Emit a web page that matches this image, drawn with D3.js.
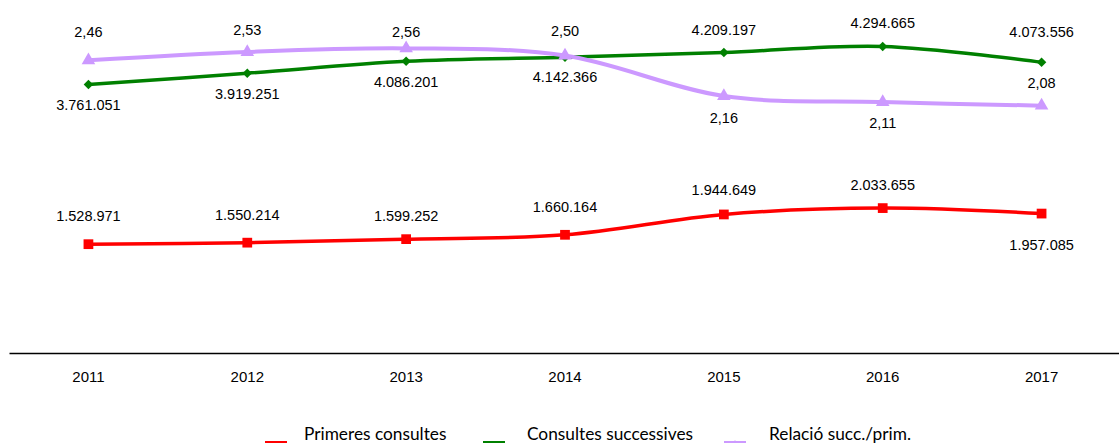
<!DOCTYPE html>
<html>
<head>
<meta charset="utf-8">
<script src="https://cdnjs.cloudflare.com/ajax/libs/d3/7.8.5/d3.min.js"></script>
<style>
  body { margin: 0; background: #fff; }
  svg text { font-family: "Liberation Sans", Arial, sans-serif; }
</style>
</head>
<body>
<div id="chart"></div>
<script>
var years = ["2011", "2012", "2013", "2014", "2015", "2016", "2017"];
var primeres = [1528971, 1550214, 1599252, 1660164, 1944649, 2033655, 1957085];
var successives = [3761051, 3919251, 4086201, 4142366, 4209197, 4294665, 4073556];
var relacio = [2.46, 2.53, 2.56, 2.50, 2.16, 2.11, 2.08];
var seriesNames = ["Primeres consultes", "Consultes successives", "Relació succ./prim."];

// label offsets (px, from point) - above is negative
var primOffset = [-28, -28, -23, -28, -25, -23, 31];
var succOffset = [20, 21, 21, 20, -23, -24, -30];
var relOffset = [-28, -22, -17, -25, 22, 21, -23];

var width = 1119, height = 443;

var svg = d3.select("#chart").append("svg")
    .attr("width", width)
    .attr("height", height);

var x = d3.scaleBand().domain(years).range([9, 1121]);
var y = d3.scaleLinear().domain([0, 5000000]).range([353.5, -4]);
var y2 = d3.scaleLinear().domain([0, 3]).range([353.5, -4]);

function cx(d, i) { return x(years[i]) + x.bandwidth() / 2; }

// axis
var xAxis = svg.append("g").attr("transform", "translate(0,353)")
    .call(d3.axisBottom(x).tickSize(0).tickPadding(18));
xAxis.attr("font-size", null).attr("font-family", null);
xAxis.select(".domain").attr("stroke", "#000").attr("stroke-width", 1.3);
xAxis.selectAll("text").attr("fill", "#000")
    .style("font-size", "15px")
    .style("font-family", "'Liberation Sans', Arial, sans-serif");

var fmt = function(v) { return d3.format(",")(v).replace(/,/g, "."); };
var fmt2 = function(v) { return v.toFixed(2).replace(".", ","); };

var curve = d3.curveCardinal.tension(0);

var series = [
  { vals: primeres, sc: y, color: "#ff0000", shape: d3.symbolSquare, size: 95, rot: 0, off: primOffset, f: fmt, w: 3.5 },
  { vals: successives, sc: y, color: "#008000", shape: d3.symbolSquare, size: 45, rot: 45, off: succOffset, f: fmt, w: 3.5 },
  { vals: relacio, sc: y2, color: "#cc99ff", shape: d3.symbolTriangle, size: 80, rot: 0, off: relOffset, f: fmt2, w: 4 }
];

series.forEach(function(s) {
  var line = d3.line()
      .x(cx)
      .y(function(d) { return s.sc(d); })
      .curve(curve);
  svg.append("path")
      .datum(s.vals)
      .attr("d", line)
      .attr("fill", "none")
      .attr("stroke", s.color)
      .attr("stroke-width", s.w);
  svg.selectAll(null)
      .data(s.vals)
      .enter().append("path")
      .attr("d", d3.symbol().type(s.shape).size(s.size))
      .attr("transform", function(d, i) {
        return "translate(" + cx(d, i) + "," + s.sc(d) + ") rotate(" + s.rot + ")";
      })
      .attr("fill", s.color);
});

series.forEach(function(s) {
  svg.selectAll(null)
      .data(s.vals)
      .enter().append("text")
      .attr("x", cx)
      .attr("y", function(d, i) { return s.sc(d) + s.off[i]; })
      .attr("dy", "0.35em")
      .attr("text-anchor", "middle")
      .style("font-size", "14.5px")
      .attr("fill", "#000")
      .text(function(d) { return s.f(d); });
});

// legend
var legX = [265, 483, 724];
var legText = [304, 527, 769];
var legend = svg.append("g");
series.forEach(function(s, i) {
  legend.append("line")
      .attr("x1", legX[i]).attr("x2", legX[i] + 22)
      .attr("y1", 442.5).attr("y2", 442.5)
      .attr("stroke", s.color).attr("stroke-width", 3);
  legend.append("path")
      .attr("d", d3.symbol().type(s.shape).size(s.size * 0.6))
      .attr("transform", "translate(" + (legX[i] + 11) + ",446) rotate(" + s.rot + ")")
      .attr("fill", s.color);
  legend.append("text")
      .attr("x", legText[i])
      .attr("y", 440)
      .style("font-size", "17.3px")
      .style("font-family", "Lato, 'Open Sans', sans-serif")
      .attr("fill", "#000")
      .text(seriesNames[i]);
});
</script>
</body>
</html>
